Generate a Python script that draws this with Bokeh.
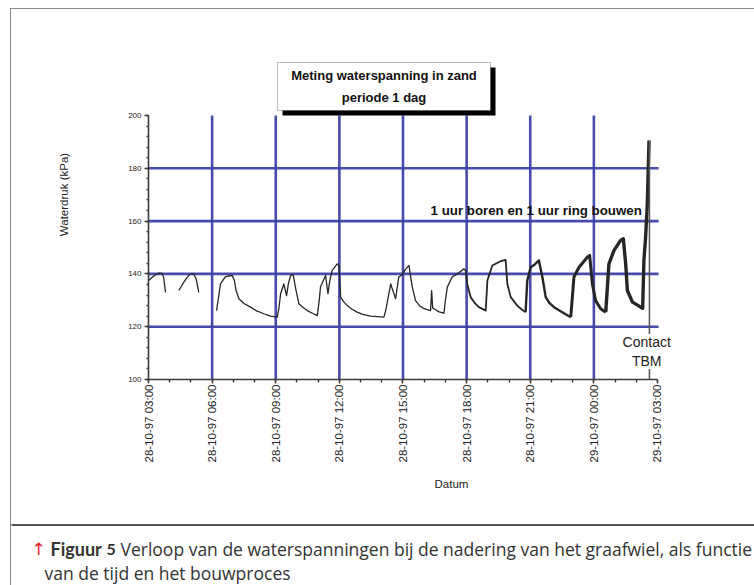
import math
from bokeh.plotting import figure
from bokeh.models import FixedTicker, Label, BoxAnnotation, Range1d
from bokeh.layouts import column, row
from bokeh.embed import file_html
from bokeh.resources import INLINE

NaN = float("nan")

# ---- data (hours since 28-10-97 03:00, water pressure in kPa) ----
hours = [0.0, 0.15, 0.3, 0.5, 0.65, 0.72, 0.8,
         1.1,
         1.43, 1.6, 1.8, 1.98, 2.14, 2.25, 2.37,
         2.8,
         3.21, 3.3, 3.4, 3.63, 3.95, 4.05, 4.12, 4.26, 4.5, 4.81, 5.1, 5.44, 5.75, 6.07,
         6.15, 6.23, 6.38, 6.51, 6.6, 6.7, 6.82, 6.95, 7.09, 7.3, 7.49, 7.75, 7.96,
         8.05, 8.11, 8.35, 8.46, 8.55, 8.66, 8.9, 8.98, 9.06, 9.2, 9.37, 9.6, 9.84,
         10.1, 10.47, 10.8, 11.1, 11.18, 11.26, 11.42, 11.55, 11.65, 11.8, 11.97,
         12.1, 12.28, 12.36, 12.44, 12.59, 12.8, 12.99, 13.3, 13.35, 13.4, 13.46,
         13.7, 13.93, 14.0, 14.09, 14.32, 14.56, 14.87, 14.95, 15.03, 15.19, 15.4,
         15.58, 15.9, 15.98, 16.21, 16.6, 16.84, 16.92, 17.08, 17.39, 17.6, 17.78,
         17.86, 18.02, 18.2, 18.41, 18.57, 18.73, 18.9, 19.12, 19.51, 19.91,
         20.06, 20.3, 20.69, 20.8, 20.93, 21.08, 21.32, 21.56, 21.71, 21.95, 22.26,
         22.39, 22.5, 22.58, 22.82, 23.21, 23.3, 23.36, 23.44, 23.52, 23.6]
kpa = [137.5, 138.5, 139.5, 140.3, 140.2, 138.5, 133.0,
       NaN,
       133.7, 136.0, 138.5, 140.0, 140.0, 138.0, 133.0,
       NaN,
       126.1, 131.0, 136.3, 139.0, 139.4, 137.5, 134.0, 130.6, 128.8, 127.4, 126.0, 124.9, 124.0, 123.6,
       127.0, 132.5, 136.2, 131.8, 136.5, 139.4, 139.7, 134.0, 128.7, 127.2, 126.1, 125.0, 124.2,
       130.0, 135.0, 139.4, 132.5, 137.5, 141.3, 143.8, 143.2, 131.2, 129.5, 128.0, 126.6, 125.5,
       124.7, 124.0, 123.8, 123.6, 126.0, 129.3, 136.2, 133.0, 130.6, 138.8, 139.8,
       141.5, 143.2, 139.0, 135.0, 129.9, 127.8, 126.8, 126.1, 133.7, 127.0, 126.8,
       125.6, 125.1, 130.0, 135.0, 138.8, 140.0, 141.9, 141.5, 136.2, 131.2, 128.8,
       127.4, 126.1, 137.5, 143.2, 144.8, 145.3, 136.2, 131.2, 128.0, 126.5, 125.5,
       137.5, 142.5, 143.5, 145.1, 138.8, 131.2, 129.0, 127.4, 125.5, 123.6,
       138.8, 142.5, 146.3, 147.0, 136.2, 129.9, 126.8, 125.5, 143.8, 148.9, 152.7,
       153.3, 143.8, 133.7, 129.3, 127.4, 127.0, 145.1, 153.9, 166.5, 190.5]

tick_hours = [0, 3, 6, 9, 12, 15, 18, 21, 24]
tick_labels = ["28-10-97 03:00", "28-10-97 06:00", "28-10-97 09:00", "28-10-97 12:00",
               "28-10-97 15:00", "28-10-97 18:00", "28-10-97 21:00", "29-10-97 00:00",
               "29-10-97 03:00"]
minor_hours = list(range(0, 25))
y_ticks = [100, 120, 140, 160, 180, 200]
y_minor = list(range(100, 201, 4))
grid_hours = [3, 6, 9, 12, 15, 18, 21]
grid_kpa = [120, 140, 160, 180]
contact_hour = 23.62
contact_kpa = 190.5
contact_text = "Contact\nTBM"
note_text = "1 uur boren en 1 uur ring bouwen"
note_pos = (13.3, 164.0)
title_lines = ["Meting waterspanning in zand", "periode 1 dag"]
caption_fig = "Figuur"
caption_num = "5"
caption_line1 = "Verloop van de waterspanningen bij de nadering van het graafwiel, als functie"
caption_line2 = "van de tijd en het bouwproces"

BORDER = "#8a8a8a"
CU = dict(left_units="canvas", right_units="canvas", top_units="canvas", bottom_units="canvas")

# ---- main chart ----
MW, MH = 743, 513
p = figure(width=MW, height=MH, output_backend="svg", toolbar_location=None,
           x_range=Range1d(0, 28.574), y_range=Range1d(100, 240.15),
           min_border_left=137, min_border_right=0, min_border_top=0,
           min_border_bottom=143)
p.outline_line_color = None
p.background_fill_color = "white"
p.border_fill_color = "white"
p.xgrid.visible = False
p.ygrid.visible = False

blue = "#3d41a6"
p.segment(x0=grid_hours, y0=[y_ticks[0]] * len(grid_hours),
          x1=grid_hours, y1=[y_ticks[-1]] * len(grid_hours),
          line_color=blue, line_width=2.6, line_alpha=0.95)
p.segment(x0=[tick_hours[0]] * len(grid_kpa), y0=grid_kpa,
          x1=[tick_hours[-1] + 0.05] * len(grid_kpa), y1=grid_kpa,
          line_color=blue, line_width=2.6, line_alpha=0.95)

axis_col = "#3a3a3a"
for ax in (p.xaxis, p.yaxis):
    ax.axis_line_color = axis_col
    ax.axis_line_width = 1.6
    ax.major_tick_line_color = axis_col
    ax.minor_tick_line_color = axis_col
    ax.major_tick_line_width = 1.4
    ax.minor_tick_line_width = 1.4
    ax.major_tick_in = 0
    ax.minor_tick_in = 0
    ax.major_label_text_font = "Liberation Sans"
    ax.major_label_text_color = "#222222"
    ax.axis_label_text_font = "Liberation Sans"
    ax.axis_label_text_font_style = "normal"
    ax.axis_label_text_color = "#222222"

p.xaxis.bounds = (tick_hours[0], tick_hours[-1])
p.xaxis.ticker = FixedTicker(ticks=tick_hours, minor_ticks=minor_hours)
p.xaxis.major_label_overrides = dict(zip(tick_hours, tick_labels))
p.xaxis.major_label_orientation = math.pi / 2
p.xaxis.major_label_text_font_size = "11.5px"
p.xaxis.major_tick_out = 4
p.xaxis.minor_tick_out = 3
p.xaxis.major_label_standoff = 1
p.xaxis.axis_label = "Datum"
p.xaxis.axis_label_text_font_size = "11.5px"
p.xaxis.axis_label_standoff = 12

p.yaxis.bounds = (y_ticks[0], y_ticks[-1])
p.yaxis.ticker = FixedTicker(ticks=y_ticks, minor_ticks=y_minor)
p.yaxis.major_label_text_font_size = "8px"
p.yaxis.major_tick_out = 4
p.yaxis.minor_tick_out = 2
p.yaxis.major_label_standoff = 3
p.yaxis.axis_label = "Waterdruk (kPa)"
p.yaxis.axis_label_text_font_size = "11.5px"
p.yaxis.axis_label_standoff = 55

# data line, drawn in pieces whose stroke grows as the noise band widens
breaks = [0, 15.0, 17.8, 20.0, 21.6, 24.5]
widths = [1.3, 1.8, 2.4, 3.0, 3.4]
for k in range(len(widths)):
    lo, hi = breaks[k], breaks[k + 1]
    idx = [i for i, h in enumerate(hours) if lo <= h <= hi]
    if idx and idx[0] > 0:
        idx = [idx[0] - 1] + idx
    p.line([hours[i] for i in idx], [kpa[i] for i in idx],
           line_color="#262626", line_width=widths[k], line_join="round")

# contact marker
p.segment(x0=[contact_hour], y0=[y_ticks[0]], x1=[contact_hour], y1=[contact_kpa],
          line_color="#555555", line_width=1.5)
p.add_layout(Label(x=contact_hour - 0.13, y=110.6, text=contact_text,
                   text_align="center", text_baseline="middle",
                   text_font="Liberation Sans", text_font_size="14px",
                   text_color="#222222", background_fill_color="white",
                   background_fill_alpha=1.0))
p.add_layout(Label(x=note_pos[0], y=note_pos[1], text=note_text,
                   text_align="left", text_baseline="middle",
                   text_font="Liberation Sans", text_font_style="bold",
                   text_font_size="13.3px", text_color="#111111"))

# title box with shadow (canvas units of the main chart)
p.add_layout(BoxAnnotation(left=271, right=484, top=58, bottom=106, **CU,
                           fill_color="black", fill_alpha=1, line_alpha=0))
p.add_layout(BoxAnnotation(left=266, right=479, top=53, bottom=101, **CU,
                           fill_color="white", fill_alpha=1, line_color="#222222",
                           line_width=1))
for i, t in enumerate(title_lines):
    p.add_layout(Label(x=372.5, y=66 + 22 * i, x_units="canvas", y_units="canvas",
                       text=t, text_align="center", text_baseline="middle",
                       text_font="Liberation Sans", text_font_style="bold",
                       text_font_size="13px", text_color="#111111"))

# ---- caption ----
cap = figure(width=MW, height=63, output_backend="svg", toolbar_location=None,
             x_axis_location=None, y_axis_location=None, min_border=0,
             x_range=Range1d(0, 1), y_range=Range1d(0, 1))
cap.outline_line_color = None
cap.background_fill_color = "white"
cap.border_fill_color = "white"
for g in cap.grid:
    g.visible = False
cap.add_layout(BoxAnnotation(left=-2, right=MW + 5, top=1.5, bottom=3.5, **CU,
                             fill_color="#555555", fill_alpha=1, line_alpha=0))
cap_font = "Open Sans"
cap_size = "17.5px"
cap.add_layout(Label(x=20, y=26, x_units="canvas", y_units="canvas", text="\u2191",
                     text_baseline="middle", text_font="DejaVu Sans",
                     text_font_size="17px", text_color="#e3191f"))
cap.add_layout(Label(x=39, y=26, x_units="canvas", y_units="canvas", text=caption_fig,
                     text_baseline="middle", text_font="Lato", text_font_style="bold",
                     text_font_size="18px", text_color="#333333"))
cap.add_layout(Label(x=95, y=27, x_units="canvas", y_units="canvas", text=caption_num,
                     text_baseline="middle", text_font="Lato", text_font_style="bold",
                     text_font_size="16px", text_color="#333333"))
cap.add_layout(Label(x=109, y=26, x_units="canvas", y_units="canvas", text=caption_line1,
                     text_baseline="middle", text_font=cap_font,
                     text_font_size=cap_size, text_color="#333333"))
cap.add_layout(Label(x=33, y=50, x_units="canvas", y_units="canvas", text=caption_line2,
                     text_baseline="middle", text_font=cap_font,
                     text_font_size=cap_size, text_color="#333333"))

layout = column(row(p), row(cap), margin=(8, 0, 0, 10),
                styles={"border-left": "1px solid " + BORDER,
                        "border-top": "1px solid " + BORDER})
open("out.html", "w").write(file_html(layout, INLINE))
